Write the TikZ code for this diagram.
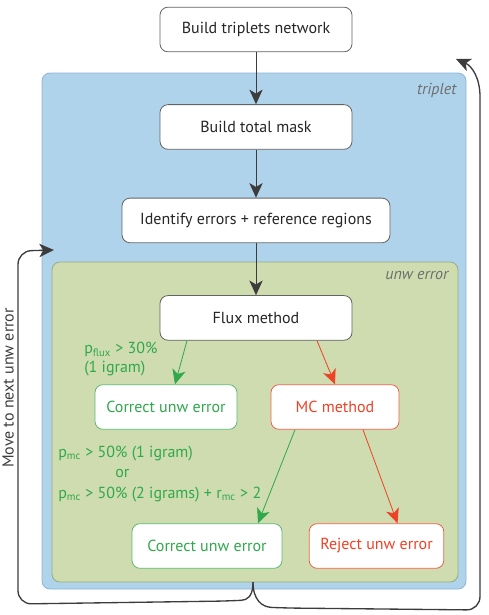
\documentclass[tikz,border=0pt]{standalone}
\usepackage{fontspec}
\setmainfont{PT Sans}
\usepackage{xcolor}
\usetikzlibrary{positioning,arrows.meta,calc}
\definecolor{blue-bg}{RGB}{176,211,236}
\definecolor{blue-ln}{RGB}{140,180,212}
\definecolor{green-bg}{RGB}{206,220,176}
\definecolor{green-ln}{RGB}{150,172,128}
\definecolor{green-tx}{RGB}{48,168,76}
\definecolor{red-tx}{RGB}{238,66,38}
\definecolor{dark-ln}{RGB}{60,60,60}
\definecolor{gray-tx}{RGB}{110,110,110}
\begin{document}
\begin{tikzpicture}
[
x=0.75pt, y=-0.75pt,
font=\fontsize{12}{14}\selectfont,
box-a/.style={rectangle, rounded corners=6pt, draw=dark-ln!80, fill=white, line width=0.6pt, minimum height=33.5pt, text=black!85},
box-g/.style={box-a, draw=green-tx!80, text=green-tx},
box-r/.style={box-a, draw=red-tx!85, text=red-tx},
text-a/.style={text=gray-tx, font=\fontsize{12}{14}\selectfont\itshape},
text-g/.style={text=green-tx, align=left, inner sep=0pt},
arr-k/.style={-{Stealth[length=11pt, width=10pt, inset=3pt]}, draw=dark-ln, line width=0.7pt},
arr-g/.style={-{Stealth[length=11pt, width=10pt, inset=3pt]}, draw=green-tx, line width=0.6pt},
arr-r/.style={-{Stealth[length=11pt, width=10pt, inset=3pt]}, draw=red-tx, line width=0.6pt},
loop-a/.style={draw=dark-ln, line width=1pt, rounded corners=10pt}
]
\useasboundingbox (0,0) rectangle (489,615);
% frames
\draw [fill=blue-bg, draw=blue-ln, rounded corners=6pt, line width=0.6pt] (42,73) rectangle (466,589);
\draw [fill=green-bg, draw=green-ln, rounded corners=6pt, line width=0.6pt] (52,262) rectangle (458,582);
\node (lbl-triplet) [text-a, anchor=east] at (461,90) {triplet};
\node (lbl-unw)     [text-a, anchor=east] at (453,275) {unw error};
% main column
\node (box-build) [box-a, minimum width=144pt] at (256,29.5) {Build triplets network};
\node (box-mask)  [box-a, minimum width=144pt, below = 39pt of box-build] {Build total mask};
\node (box-ident) [box-a, minimum width=201pt, below = 36pt of box-mask ] {Identify errors + reference regions};
\node (box-flux)  [box-a, minimum width=144pt, below = 39pt of box-ident] {Flux method};
% decisions
\node (box-corr1) [box-g, minimum width=106.5pt] at (166,407) {Correct unw error};
\node (box-mc)    [box-r, minimum width=96pt]    at (335,407) {MC method};
\node (box-corr2) [box-g, minimum width=112.5pt] at (207,546) {Correct unw error};
\node (box-rej)   [box-r, minimum width=101pt]   at (376.5,546) {Reject unw error};
% conditions
\node (lbl-flux) [text-g, anchor=north west] at (84,342) {p\textsubscript{flux} > 30\%\\(1 igram)};
\node (lbl-mc-a)  [text-g, anchor=base west] at (58,457) {p\textsubscript{mc} > 50\% (1 igram)};
\node (lbl-mc-or) [text-g, anchor=base west] at (115,477) {or};
\node (lbl-mc-b)  [text-g, anchor=base west] at (58,498) {p\textsubscript{mc} > 50\% (2 igrams) + r\textsubscript{mc} > 2};
\node (lbl-move) [text=dark-ln, rotate=90, inner sep=1pt] at (8,388) {Move to next unw error};
% arrows
\draw [arr-k] (box-build) -- (box-mask);
\draw [arr-k] (box-mask)  -- (box-ident);
\draw [arr-k] (box-ident) -- (box-flux);
\draw [arr-g] ($(box-flux.south)+(-69,0)$) -- ($(box-corr1.north)+(9,0)$);
\draw [arr-r] ($(box-flux.south)+(61,0)$)  -- (box-mc.north);
\draw [arr-g] ($(box-mc.south)+(-40,0)$)   -- ($(box-corr2.north)+(51,0)$);
\draw [arr-r] ($(box-mc.south)+(28,0)$)    -- ($(box-rej.north)+(21,0)$);
% loops
\coordinate (split)   at (253,582);
\coordinate (back-in) at (54,250);
\coordinate (back-up) at (456,59);
\draw [loop-a, arr-k, line width=1pt] (split) .. controls (253,597) and (247,600) .. (228,601)
  -- (18,604) -- (18,251) -- (back-in);
\draw [loop-a, arr-k, line width=1pt] (split) .. controls (253,600) and (262,607) .. (285,608)
  -- (480,610) -- (480,110) .. controls (480,78) and (472,66) .. (back-up);
\end{tikzpicture}
\end{document}
